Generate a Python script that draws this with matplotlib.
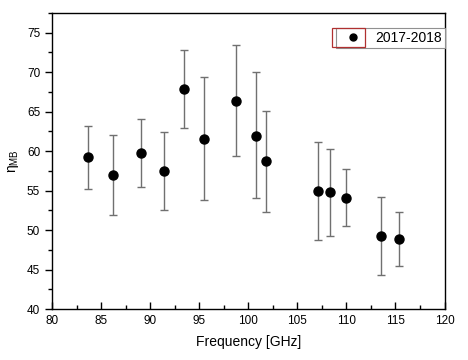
import matplotlib
matplotlib.use("Agg")
import matplotlib.pyplot as plt
from matplotlib.patches import Rectangle
from matplotlib.lines import Line2D
from matplotlib.ticker import MultipleLocator
import numpy as np

# Main-beam efficiency vs frequency
freq = [83.7, 86.2, 89.1, 91.4, 93.5, 95.5, 98.8, 100.8, 101.8, 107.1, 108.3, 110.0, 113.5, 115.4]
eta = [59.2, 57.0, 59.8, 57.5, 67.9, 61.6, 66.4, 61.9, 58.7, 55.0, 54.8, 54.1, 49.2, 48.9]
err_hi = [63.2, 62.0, 64.1, 62.4, 72.8, 69.4, 73.5, 70.0, 65.1, 61.1, 60.3, 57.7, 54.2, 52.3]
err_lo = [55.2, 51.9, 55.4, 52.5, 62.9, 53.8, 59.4, 54.0, 52.3, 48.8, 49.3, 50.5, 44.3, 45.5]
series_label = "2017-2018"

plt.rcParams["font.family"] = ["Liberation Sans", "DejaVu Sans"]

fig = plt.figure(figsize=(4.68, 3.6), dpi=100)
ax = fig.add_axes([52 / 468, 1 - 309 / 360, (444.5 - 52) / 468, (309 - 13) / 360])

eta_a = np.array(eta)
yerr = [eta_a - np.array(err_lo), np.array(err_hi) - eta_a]
ax.errorbar(freq, eta, yerr=yerr, fmt="o", color="black", ms=6.5,
            ecolor="#707070", elinewidth=1.0, capsize=3, capthick=1.0, zorder=3)

ax.set_xlim(80, 120)
ax.set_ylim(40, 77.5)
ax.xaxis.set_major_locator(MultipleLocator(5))
ax.xaxis.set_minor_locator(MultipleLocator(2.5))
ax.yaxis.set_major_locator(MultipleLocator(5))
ax.yaxis.set_minor_locator(MultipleLocator(2.5))
ax.tick_params(axis="x", which="both", direction="in", top=False, labelsize=8.5, pad=4)
ax.tick_params(axis="x", which="major", length=5, width=1)
ax.tick_params(axis="x", which="minor", length=3, width=1)
ax.tick_params(axis="y", which="both", direction="out", right=False, labelsize=8.5)
ax.tick_params(axis="y", which="major", length=5, width=1)
ax.tick_params(axis="y", which="minor", length=3, width=1)
for s in ax.spines.values():
    s.set_linewidth(1.0)

ax.set_xlabel("Frequency [GHz]", fontsize=10, labelpad=6)
ax.set_ylabel(r"$\mathregular{\eta_{MB}}$", fontsize=10, labelpad=4)

# legend shows only the marker, no error bar
handle = Line2D([], [], ls="none", marker="o", color="black", ms=5)
leg = ax.legend([handle], [series_label], loc="upper right",
                bbox_to_anchor=(1.0, (309 - 28) / 296), fontsize=10,
                fancybox=False, framealpha=1, edgecolor="#909090",
                borderpad=0.2, handlelength=2.0, handletextpad=0.6,
                borderaxespad=0, numpoints=1)
leg.get_frame().set_linewidth(0.8)

# red box around the legend symbol, Origin style
fig.add_artist(Rectangle((332 / 468, 1 - 47 / 360), 33 / 468, 19 / 360,
                         transform=fig.transFigure, fill=False,
                         edgecolor="#b03030", linewidth=0.9, zorder=10))

fig.savefig("out.png", dpi=100)
